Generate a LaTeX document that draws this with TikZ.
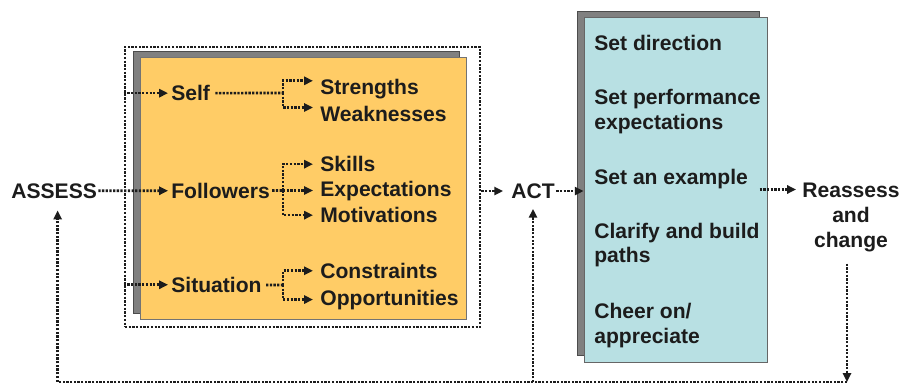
\documentclass[tikz,border=0pt]{standalone}
\usepackage{fontspec}
\setmainfont{Liberation Sans}
\usetikzlibrary{arrows.meta,fit}

\definecolor{boxorange}{RGB}{255,204,102}
\definecolor{boxcyan}{RGB}{184,224,227}
\definecolor{shadowgray}{RGB}{128,128,128}
\definecolor{inkgray}{RGB}{28,28,28}

\tikzset{
  dotline/.style={line width=1.5pt, dash pattern=on 1.3pt off 0.8pt, draw=inkgray},
  flow/.style={dotline, -{Triangle[length=5pt,width=4.6pt]}},
  word/.style={inner sep=0pt, font=\fontsize{12}{14.2}\selectfont\bfseries, text=inkgray, anchor=base west},
  para/.style={word, anchor=north west, align=left},
}

\begin{document}
\begin{tikzpicture}[x=0.02cm, y=-0.02cm]
      \useasboundingbox (0,0) rectangle (900,385);

      % assess block
      \filldraw[fill=shadowgray, draw=black!70, line width=0.4pt] (133,51) rectangle (459,313);
      \filldraw[fill=boxorange, draw=black!55, line width=0.5pt] (140,57) rectangle (466,319);
      \node[fit={(125,47) (480,327)}, inner sep=0pt, dotline] (frame) {};

      % act block
      \filldraw[fill=shadowgray, draw=black!70, line width=0.4pt] (577,11) rectangle (759,355);
      \node[fit={(584,17) (767,362)}, inner sep=0pt, fill=boxcyan, draw=black!60, line width=0.5pt] (acts) {};

      \node[word] (assess) at (11,198) {ASSESS};
      \node[word] (self) at (171,100.7) {Self};
      \node[word] (fol) at (171,198.3) {Followers};
      \node[word] (sit) at (171,292.3) {Situation};
      \node[word] (str) at (320,95) {Strengths};
      \node[word] (weak) at (320,121.7) {Weaknesses};
      \node[word] (ski) at (320,171.7) {Skills};
      \node[word] (exp) at (320,196.7) {Expectations};
      \node[word] (mot) at (320,222.7) {Motivations};
      \node[word] (con) at (320,278.3) {Constraints};
      \node[word] (opp) at (320,305) {Opportunities};
      \node[word] (act) at (511,198.3) {ACT};

      \node[para] (dir) at (594,34.7) {Set direction};
      \node[para] (per) at (594,89) {Set performance\\expectations};
      \node[para] (ex) at (594,169) {Set an example};
      \node[para] (cla) at (594,222.4) {Clarify and build\\paths};
      \node[para] (che) at (594,303) {Cheer on/\\appreciate};
      \node[word, anchor=north, align=center] (rea) at (851,183) {Reassess\\and\\change};

      \coordinate (selfjoin) at (283,93);
      \coordinate (foljoin) at (283,190.5);
      \coordinate (sitjoin) at (283,285);
      \coordinate (loopcorner) at (847,382);

      \draw[flow, shorten <=0.6pt, shorten >=1.7pt] (assess) -- (fol);
      \draw[flow, shorten >=1.7pt] (frame.west |- self) -- (self);
      \draw[flow, shorten >=1.7pt] (frame.west |- sit) -- (sit);

      \draw[dotline, shorten <=2.8pt] (self) -- (selfjoin);
      \draw[flow, shorten >=4pt] (selfjoin) |- ([yshift=5pt]str.west);
      \draw[flow, shorten >=4pt] (selfjoin) |- ([yshift=3.8pt]weak.west);

      \draw[dotline, shorten <=1.2pt] (fol) -- (foljoin);
      \draw[flow, shorten >=4pt] (foljoin) |- (ski);
      \draw[flow, shorten >=4pt] (foljoin) -- (foljoin -| exp.west);
      \draw[flow, shorten >=4pt] (foljoin) |- (mot);

      \draw[dotline, shorten <=2.4pt] (sit) -- (sitjoin);
      \draw[flow, shorten >=4pt] (sitjoin) |- (con);
      \draw[flow, shorten >=4pt] (sitjoin) |- (opp);

      \draw[flow, shorten >=4.5pt] (frame.east |- act) -- (act);
      \draw[flow, shorten <=0.7pt] (act) -- (act -| acts.west);
      \draw[flow, shorten >=3.4pt] ([xshift=-4.5pt]acts.east) -- (acts.east -| rea.west);

      % feedback loop
      \draw[flow, shorten <=6.3pt] (rea.south -| loopcorner) -- (loopcorner);
      \draw[flow, shorten >=6.8pt] (loopcorner) -| ([xshift=2pt]assess.south);
      \draw[flow, shorten >=5.7pt] (loopcorner -| act) -- (act.south);

\end{tikzpicture}
\end{document}
